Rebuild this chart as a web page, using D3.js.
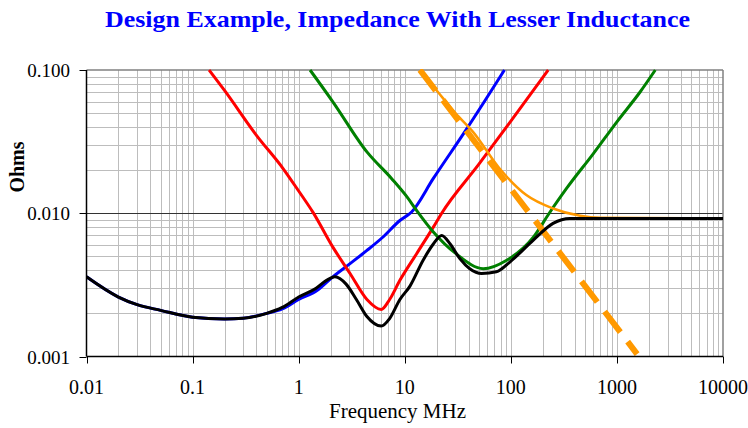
<!DOCTYPE html>
<html>
<head>
<meta charset="utf-8">
<script src="https://cdn.jsdelivr.net/npm/d3@7"></script>
<style>
  body { margin: 0; background: #fff; }
  text { font-family: "Liberation Serif", "Times New Roman", serif; }
</style>
</head>
<body>
<div id="vis-container"></div>
<script>
//width and height
var w = 748;
var h = 428;

// tick labels
var yTicks = [0.001, 0.01, 0.1];
var yTickLabels = ["0.001", "0.010", "0.100"];
var xTicks = [0.01, 0.1, 1, 10, 100, 1000, 10000];
var xTickLabels = ["0.01", "0.1", "1", "10", "100", "1000", "10000"];

// series, frequency in MHz and impedance in ohms
var blueFreq = [0.01, 0.02, 0.03, 0.05, 0.1, 0.2, 0.3, 0.5, 0.7, 1, 1.5, 2.1, 3.05, 4.4, 6.2, 9, 11.6, 18.6, 38.5, 87];
var blueOhms = [0.0036, 0.0026, 0.0023, 0.0021, 0.00188, 0.00183, 0.00185, 0.0020, 0.00215, 0.0025, 0.0029, 0.0036, 0.00445, 0.0055, 0.0068, 0.0089, 0.0102, 0.0175, 0.039, 0.1];

var redFreq = [0.143, 0.2, 0.4, 0.71, 1, 1.37, 2.1, 3.05, 4.4, 6, 7.2, 9, 12.9, 18.6, 22.3, 50, 100, 225];
var redOhms = [0.1, 0.072, 0.035, 0.0206, 0.0143, 0.0101, 0.0058, 0.0038, 0.0025, 0.00213, 0.0025, 0.0034, 0.0052, 0.008, 0.01, 0.022, 0.044, 0.1];

var greenFreq = [1.28, 2.1, 4.4, 7.5, 10.5, 12.9, 18.6, 30.6, 55, 91.5, 163, 230, 335, 600, 1000, 1660, 2300];
var greenOhms = [0.1, 0.06, 0.0268, 0.0175, 0.013, 0.0105, 0.0074, 0.0052, 0.0041, 0.0047, 0.0068, 0.01, 0.0149, 0.0261, 0.0435, 0.0705, 0.1];

var orangeFreq = [13.9, 20, 30, 44, 78, 140, 250, 450, 700, 10000];
var orangeOhms = [0.1, 0.072, 0.05, 0.037, 0.0206, 0.0134, 0.0108, 0.0096, 0.0093, 0.0092];

var dashFreq = [13.9, 1550];
var dashOhms = [0.1, 0.00104];

var totalFreq = [0.01, 0.02, 0.03, 0.05, 0.1, 0.2, 0.3, 0.5, 0.7, 1, 1.46, 1.83, 2.2, 2.8, 3.5, 4.4, 6, 7.2, 9, 11.2, 14.9, 18.6, 22.3, 26.8, 33.2, 41, 53, 73, 99, 163, 250, 360, 500, 10000];
var totalOhms = [0.0036, 0.0026, 0.0023, 0.0021, 0.00188, 0.00183, 0.00185, 0.0020, 0.0022, 0.0026, 0.0030, 0.0034, 0.0036, 0.0032, 0.0025, 0.0019, 0.00163, 0.00184, 0.0025, 0.0031, 0.0047, 0.0061, 0.0070, 0.0061, 0.0048, 0.0041, 0.0038, 0.0039, 0.0046, 0.0065, 0.0085, 0.0092, 0.0092, 0.0092];

var padL = 86.5, padR = 723, padT = 70, padB = 356.5;

//scale function
var xScale = d3.scaleLog().domain([0.01, 10000]).range([padL, padR]);
var yScale = d3.scaleLog().domain([0.001, 0.1]).range([padB, padT]);

var svg = d3.select("#vis-container")
    .append("svg")
    .attr("width", w)
    .attr("height", h)
    .style("background", "#fff");

// title
svg.append("text")
    .attr("x", 397.5)
    .attr("y", 27)
    .attr("text-anchor", "middle")
    .attr("textLength", 585)
    .attr("lengthAdjust", "spacingAndGlyphs")
    .style("font-size", "24px")
    .style("font-weight", "bold")
    .style("fill", "#0000ff")
    .text("Design Example, Impedance With Lesser Inductance");

// grid lines
var grid = svg.append("g");
var xMinor = [];
for (var e = -2; e < 4; e++) {
    for (var m = 2; m <= 9; m++) xMinor.push(m * Math.pow(10, e));
}
var yMinor = [];
for (var e = -3; e < -1; e++) {
    for (var m = 2; m <= 9; m++) yMinor.push(m * Math.pow(10, e));
}
grid.selectAll(".vx")
    .data(xMinor.concat([0.1, 1, 10, 100, 1000]))
    .enter().append("line")
    .attr("x1", function (d) { return Math.round(xScale(d)) + 0.5; })
    .attr("x2", function (d) { return Math.round(xScale(d)) + 0.5; })
    .attr("y1", padT).attr("y2", padB)
    .attr("stroke", "#bdbdbd").attr("stroke-width", 1);
grid.selectAll(".hy")
    .data(yMinor)
    .enter().append("line")
    .attr("y1", function (d) { return Math.round(yScale(d)) + 0.5; })
    .attr("y2", function (d) { return Math.round(yScale(d)) + 0.5; })
    .attr("x1", padL).attr("x2", padR)
    .attr("stroke", "#bdbdbd").attr("stroke-width", 1);
// major horizontal
grid.append("line")
    .attr("x1", padL).attr("x2", padR)
    .attr("y1", Math.round(yScale(0.01)) + 0.5).attr("y2", Math.round(yScale(0.01)) + 0.5)
    .attr("stroke", "#333").attr("stroke-width", 1);
// plot border top and right
grid.append("line")
    .attr("x1", padL).attr("x2", padR)
    .attr("y1", padT).attr("y2", padT)
    .attr("stroke", "#808080").attr("stroke-width", 1.5);
grid.append("line")
    .attr("x1", padR).attr("x2", padR)
    .attr("y1", padT).attr("y2", padB)
    .attr("stroke", "#808080").attr("stroke-width", 1.5);

// curves
svg.append("clipPath").attr("id", "plotclip")
    .append("rect")
    .attr("x", padL).attr("y", padT - 1)
    .attr("width", padR - padL).attr("height", padB - padT + 1);

var line = d3.line()
    .x(function (d) { return xScale(d[0]); })
    .y(function (d) { return yScale(d[1]); })
    .curve(d3.curveMonotoneX);

function zip(a, b) { return a.map(function (v, i) { return [v, b[i]]; }); }

var plot = svg.append("g").attr("clip-path", "url(#plotclip)");

function draw(fr, oh, color, width, dash) {
    var p = plot.append("path")
        .datum(zip(fr, oh))
        .attr("d", line)
        .attr("fill", "none")
        .attr("stroke", color)
        .attr("stroke-width", width)
        .attr("stroke-linejoin", "round");
    if (dash) p.attr("stroke-dasharray", dash);
}

draw(blueFreq, blueOhms, "#0000ff", 3);
draw(redFreq, redOhms, "#ff0000", 3);
draw(greenFreq, greenOhms, "#008000", 3);
draw(orangeFreq, orangeOhms, "#ff9900", 2.5);
draw(dashFreq, dashOhms, "#ff9900", 6, "26,12");
draw(totalFreq, totalOhms, "#000000", 3);

// axes
svg.append("line")
    .attr("x1", padL).attr("x2", padL)
    .attr("y1", padT).attr("y2", padB)
    .attr("stroke", "#000").attr("stroke-width", 1.5);
svg.append("line")
    .attr("x1", padL).attr("x2", padR)
    .attr("y1", padB).attr("y2", padB)
    .attr("stroke", "#000").attr("stroke-width", 1.5);

svg.selectAll(".ytick")
    .data(yTicks)
    .enter().append("line")
    .attr("x1", padL - 7).attr("x2", padL)
    .attr("y1", function (d) { return Math.round(yScale(d)) + 0.5; })
    .attr("y2", function (d) { return Math.round(yScale(d)) + 0.5; })
    .attr("stroke", "#000");
svg.selectAll(".ylab")
    .data(yTicks)
    .enter().append("text")
    .attr("x", 70)
    .attr("y", function (d) { return yScale(d) + 7; })
    .attr("text-anchor", "end")
    .style("font-size", "19px")
    .text(function (d, i) { return yTickLabels[i]; });

svg.selectAll(".xtick")
    .data(xTicks)
    .enter().append("line")
    .attr("x1", function (d) { return Math.round(xScale(d)) + 0.5; })
    .attr("x2", function (d) { return Math.round(xScale(d)) + 0.5; })
    .attr("y1", padB).attr("y2", padB + 7)
    .attr("stroke", "#000");
svg.selectAll(".xlab")
    .data(xTicks)
    .enter().append("text")
    .attr("x", function (d) { return xScale(d); })
    .attr("y", 394)
    .attr("text-anchor", "middle")
    .style("font-size", "20px")
    .text(function (d, i) { return xTickLabels[i]; });

svg.append("text")
    .attr("x", 397.5)
    .attr("y", 418)
    .attr("text-anchor", "middle")
    .style("font-size", "21px")
    .text("Frequency MHz");

svg.append("text")
    .attr("transform", "translate(24,167) rotate(-90)")
    .attr("text-anchor", "middle")
    .style("font-size", "20px")
    .style("font-weight", "bold")
    .text("Ohms");
</script>
</body>
</html>
